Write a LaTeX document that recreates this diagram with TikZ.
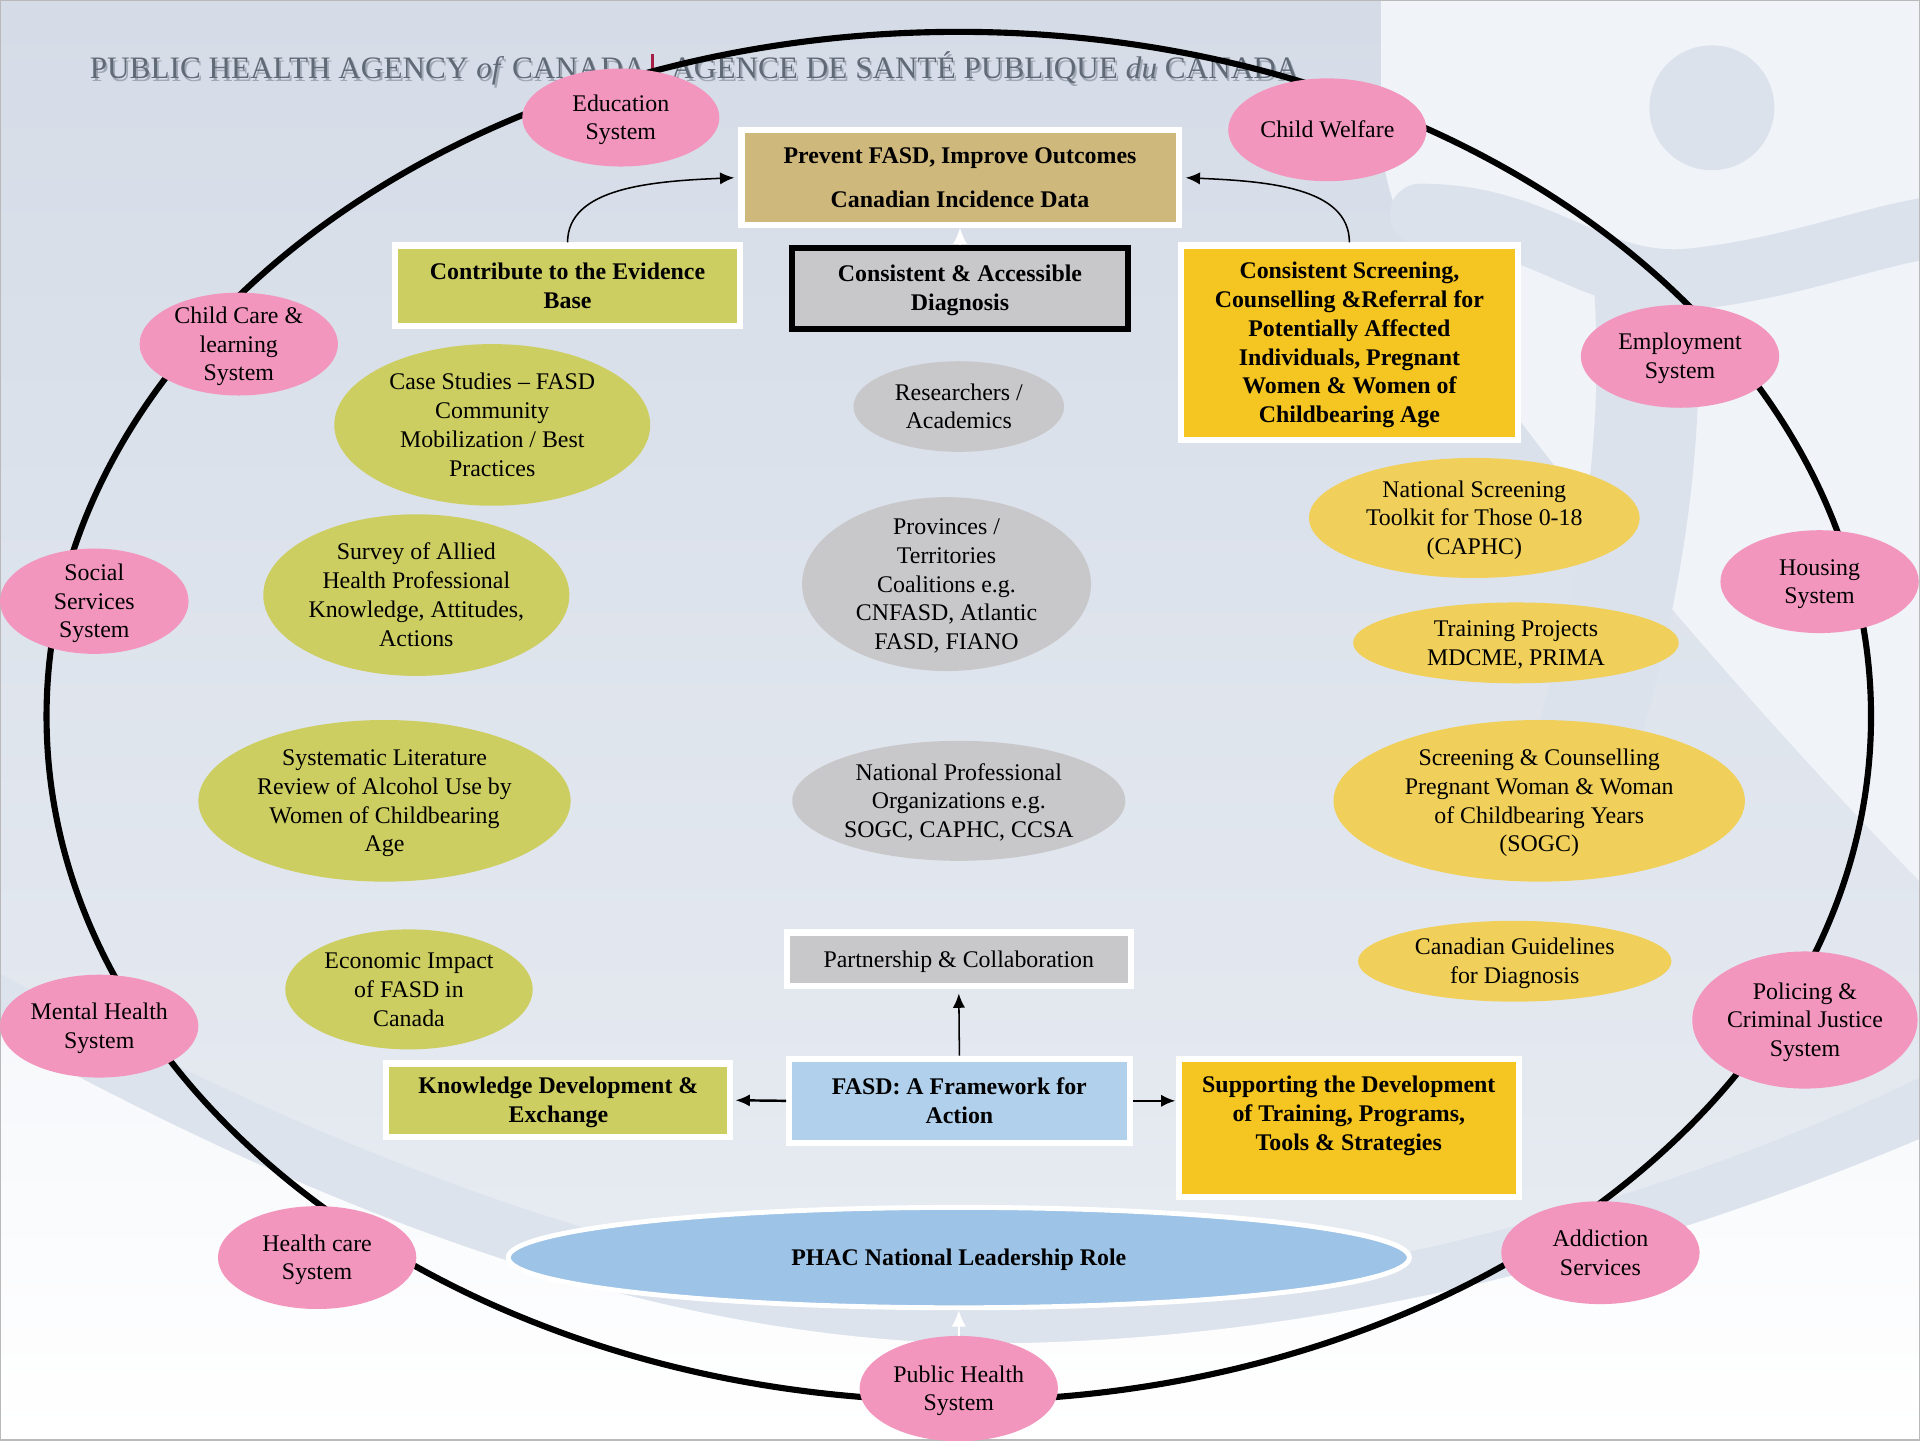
\documentclass[tikz,border=0pt]{standalone}
\usepackage{fontspec}
\setmainfont{Liberation Serif}
\usetikzlibrary{arrows.meta,shapes.geometric}
\definecolor{pinkc}{RGB}{242,150,190}
\definecolor{olivec}{RGB}{205,206,98}
\definecolor{grayc}{RGB}{200,200,202}
\definecolor{yellowbox}{RGB}{245,197,34}
\definecolor{yellowell}{RGB}{240,208,90}
\definecolor{tanc}{RGB}{207,184,124}
\definecolor{bluebox}{RGB}{176,208,236}
\definecolor{phacblue}{RGB}{157,195,231}
\definecolor{bgtop}{RGB}{213,220,231}
\definecolor{bgmid}{RGB}{233,237,243}
\definecolor{bglight}{RGB}{240,243,248}
\definecolor{figc}{RGB}{219,226,236}
\definecolor{bandc}{RGB}{220,227,237}
\definecolor{bgwhite}{RGB}{246,248,251}
\definecolor{hdrgray}{RGB}{96,106,118}
\definecolor{hdrshadow}{RGB}{160,168,180}
\definecolor{hdrred}{RGB}{165,30,70}
\newcommand{\zstrut}{\rule[-2.7pt]{0pt}{13.2pt}}
\tikzset{
  txt/.style={font=\fontsize{11.7}{14.1}\selectfont, align=center, text=black},
  bxt/.style={font=\fontsize{11.7}{14.1}\selectfont\bfseries, align=center, text=black},
  hdr/.style={font=\fontsize{15.3}{18}\selectfont, inner sep=0pt},
  rbox/.style 2 args={rectangle, draw=white, line width=3pt, inner sep=0pt,
    minimum width=#1*0.6pt, minimum height=#2*0.6pt},
  oval/.style 2 args={ellipse, inner sep=-25pt, txt,
    minimum width=#1*1.2pt, minimum height=#2*1.2pt},
  ring/.style={line width=3pt, draw=black},
  conn/.style={line width=0.75pt, -{Latex[length=7pt,width=6pt]}},
  thickconn/.style={line width=1.2pt, -{Latex[length=7pt,width=6pt]}},
  whitearrow/.style={draw=white, line width=1pt, -{Latex[length=8pt,width=7pt]}}
}
\begin{document}
\begin{tikzpicture}[x=0.6pt,y=-0.6pt]
\useasboundingbox (0,0) rectangle (1568,1176);
% ---------- background ----------
\shade[top color=bgtop, bottom color=bgmid] (0,0) rectangle (1568,1176);
\fill[bglight] (1128,0) -- (1568,0) -- (1568,720) .. controls (1470,620) and (1300,430) .. (1210,300) .. controls (1160,230) and (1128,160) .. (1128,110) -- cycle;
\fill[figc] (1398,88) circle[radius=30.6pt];
\draw[figc, line width=30pt, line cap=round] (1160,175) .. controls (1260,175) and (1300,235) .. (1380,228) .. controls (1460,220) and (1520,195) .. (1580,185);
\draw[figc, line width=50pt] (1342,215) .. controls (1352,330) and (1342,450) .. (1292,620);
\fill[bandc] (0,795) .. controls (260,940) and (550,1050) .. (783,1060) .. controls (1050,1068) and (1350,985) .. (1568,880) -- (1568,1176) -- (0,1176) -- cycle;
\shade[top color=bgwhite, bottom color=white] (0,845) .. controls (300,1010) and (550,1090) .. (783,1097) .. controls (1050,1100) and (1320,1035) .. (1568,930) -- (1568,1176) -- (0,1176) -- cycle;
\draw[gray!55, line width=1.2pt] (0,0) rectangle (1568,1176);
% ---------- header ----------
\node[hdr, text=hdrshadow, anchor=base west] (hdrLs) at (74.5,66.5) {PUBLIC HEALTH AGENCY \textit{of} CANADA};
\node[hdr, text=hdrgray, anchor=base west] (hdrL) at (73,64) {PUBLIC HEALTH AGENCY \textit{of} CANADA};
\draw[hdrred, line width=1.3pt] (533,44) -- (533,60);
\node[hdr, text=hdrshadow, anchor=base west] (hdrRs) at (549.5,66.5) {AGENCE DE SANTÉ PUBLIQUE \textit{du} CANADA};
\node[hdr, text=hdrgray, anchor=base west] (hdrR) at (548,64) {AGENCE DE SANTÉ PUBLIQUE \textit{du} CANADA};
% ---------- ring ----------
\draw[ring] (783,585) ellipse [x radius=447pt, y radius=335.4pt];
% ---------- boxes ----------
\node[rbox={357}{77}, fill=tanc, bxt] (prevent) at (784,145) {\zstrut Prevent FASD, Improve Outcomes\\[7.5pt]Canadian Incidence Data\zstrut};
\node[rbox={282}{66}, fill=olivec, bxt] (contribute) at (463.5,233.5) {\zstrut Contribute to the Evidence\\Base\zstrut};
\node[rbox={275}{66}, draw=black, fill=grayc, bxt] (diagnosis) at (784,235.5) {\zstrut Consistent \& Accessible\\Diagnosis\zstrut};
\node[rbox={275}{159}, fill=yellowbox, bxt] (screening) at (1102,280) {\zstrut Consistent Screening,\\Counselling \&Referral for\\Potentially Affected\\Individuals, Pregnant\\Women \& Women of\\Childbearing Age\zstrut};
\node[rbox={281}{44}, fill=grayc, txt] (partner) at (783,783.5) {\zstrut Partnership \& Collaboration\zstrut};
\node[rbox={278}{69}, fill=bluebox, bxt] (framework) at (783.5,899) {\zstrut FASD: A Framework for\\Action\zstrut};
\node[rbox={281}{60}, fill=olivec, bxt] (knowledge) at (456,898.5) {\zstrut Knowledge Development \&\\Exchange\zstrut};
\node[rbox={278}{113}, fill=yellowbox, bxt] (supporting) at (1101.5,921) {\zstrut Supporting the Development\\of Training, Programs,\\Tools \& Strategies\\\zstrut};
\node[ellipse, draw=white, line width=2.4pt, fill=phacblue, inner sep=-25pt, bxt, minimum width=441.6pt, minimum height=49.2pt] (phac) at (783,1027) {\zstrut PHAC National Leadership Role\zstrut};
% ---------- pink system ellipses ----------
\node[oval={80.5}{40}, fill=pinkc] (edu) at (507,96) {\zstrut Education\\System\zstrut};
\node[oval={81}{42}, fill=pinkc] (welfare) at (1084,106) {\zstrut Child Welfare\zstrut};
\node[oval={81}{42}, fill=pinkc] (childcare) at (195,281) {\zstrut Child Care \&\\learning\\System\zstrut};
\node[oval={81}{42}, fill=pinkc] (employ) at (1372,291) {\zstrut Employment\\System\zstrut};
\node[oval={77}{43}, fill=pinkc] (social) at (77,491) {\zstrut Social\\Services\\System\zstrut};
\node[oval={81}{42}, fill=pinkc] (housing) at (1486,475) {\zstrut Housing\\System\zstrut};
\node[oval={81}{42}, fill=pinkc] (mental) at (81,838) {\zstrut Mental Health\\System\zstrut};
\node[oval={92}{56}, fill=pinkc] (policing) at (1474,833) {\zstrut Policing \&\\Criminal Justice\\System\zstrut};
\node[oval={81}{42}, fill=pinkc] (healthcare) at (259,1027) {\zstrut Health care\\System\zstrut};
\node[oval={81}{42}, fill=pinkc] (addiction) at (1307,1023) {\zstrut Addiction\\Services\zstrut};
\node[oval={81}{43}, fill=pinkc] (publichealth) at (783,1134) {\zstrut Public Health\\System\zstrut};
% ---------- olive ellipses ----------
\node[oval={129}{66}, fill=olivec] (cases) at (402,347) {\zstrut Case Studies -- FASD\\Community\\Mobilization / Best\\Practices\zstrut};
\node[oval={125}{66}, fill=olivec] (survey) at (340,486) {\zstrut Survey of Allied\\Health Professional\\Knowledge, Attitudes,\\Actions\zstrut};
\node[oval={152}{66}, fill=olivec] (review) at (314,654) {\zstrut Systematic Literature\\Review of Alcohol Use by\\Women of Childbearing\\Age\zstrut};
\node[oval={101}{49}, fill=olivec] (econ) at (334,808) {\zstrut Economic Impact\\of FASD in\\Canada\zstrut};
% ---------- gray ellipses ----------
\node[oval={86}{37}, fill=grayc] (research) at (783,332) {\zstrut Researchers /\\Academics\zstrut};
\node[oval={118}{71}, fill=grayc] (prov) at (773,477) {\zstrut Provinces /\\Territories\\Coalitions e.g.\\CNFASD, Atlantic\\FASD, FIANO\zstrut};
\node[oval={136}{49}, fill=grayc] (natprof) at (783,654) {\zstrut National Professional\\Organizations e.g.\\SOGC, CAPHC, CCSA\zstrut};
% ---------- yellow ellipses ----------
\node[oval={135}{49}, fill=yellowell] (toolkit) at (1204,423) {\zstrut National Screening\\Toolkit for Those 0-18\\(CAPHC)\zstrut};
\node[oval={133}{33}, fill=yellowell] (training) at (1238,525) {\zstrut Training Projects\\MDCME, PRIMA\zstrut};
\node[oval={168}{66}, fill=yellowell] (sogc) at (1257,654) {\zstrut Screening \& Counselling\\Pregnant Woman \& Woman\\of Childbearing Years\\(SOGC)\zstrut};
\node[oval={128}{33}, fill=yellowell] (guide) at (1237,785) {\zstrut Canadian Guidelines\\for Diagnosis\zstrut};
% ---------- connectors ----------
\draw[conn, shorten >=2pt] (contribute.north) .. controls +(0,-45) and +(-70,3) .. (prevent.west);
\draw[conn, shorten >=2pt] (screening.north) .. controls +(0,-45) and +(70,3) .. (prevent.east);
\draw[conn, shorten >=2pt] (framework.north) -- (partner.south);
\draw[thickconn, shorten >=1pt] (framework.west) -- (knowledge.east);
\draw[thickconn] (framework.east) -- (framework.east -| supporting.west);
\draw[whitearrow] (diagnosis.north) -- (prevent.south);
\draw[whitearrow] (publichealth.north) -- (phac.south);
\end{tikzpicture}
\end{document}
